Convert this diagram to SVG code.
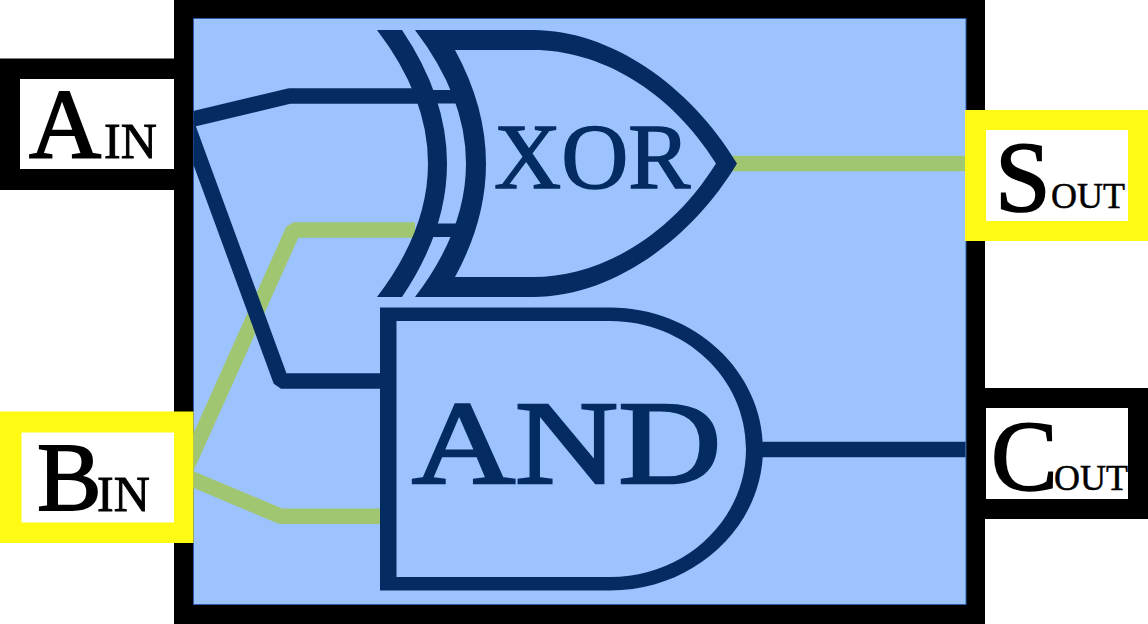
<svg xmlns="http://www.w3.org/2000/svg" width="1148" height="624" viewBox="0 0 1148 624">
<style>
text{font-family:"Liberation Serif","Times New Roman",serif}
.big{font-size:100px;fill:#000;stroke:#000;stroke-width:1.800}
.sm{font-size:50px;fill:#000;stroke:#000;stroke-width:.9}
.smo{font-size:36px;fill:#000;stroke:#000;stroke-width:.5}
.g{fill:#042c63;font-size:93px;stroke:#042c63;stroke-width:1.500}
.navy{fill:#042c63}
.wn,.wg{fill:none;stroke-width:15.500;stroke-linejoin:bevel}
.wn{stroke:#042c63}
.wg{stroke:#a0c672}
.k{fill:#000}
.y{fill:#fffa13}
.w{fill:#fff}
</style>
<defs><clipPath id="inner"><rect x="193.500" y="19" width="772" height="585"/></clipPath></defs>
<rect width="1148" height="624" fill="#fff"/>
<g id="adder">
<rect x="174" y="0" width="811" height="624" class="k"/>
<rect x="193.500" y="18.500" width="772.500" height="586" fill="#9dc3fe" stroke="#2a5aa8" stroke-width="1"/>
</g>
<g id="connectors" clip-path="url(#inner)">
<path class="wg" d="M185 471 L293.300 230 H415"/>
<path class="wn" d="M185 121 L289.500 96 H425"/>
<path class="wn" d="M185.300 120 L281 381 H385"/>
<path class="wg" d="M180 474 L281 516.300 H385"/>
<path class="wg" d="M730 163.500 H966"/>
<path class="wn" d="M755 449.500 H966"/>
</g>
<g id="xor-gate">
<path class="navy" d="M377 30 H402 Q492 163.500 402 297 H377 Q479 163.500 377 30 Z"/>
<path class="navy" fill-rule="evenodd" d="M415 30 H533 C610 30 690 85 737 163.500 C690 242 610 297 533 297 H415 Q517 163.500 415 30 Z M455 50 Q517 163.500 455 277 H533 C600 277 670 237 716 163.500 C670 90 600 50 533 50 Z"/>
<rect class="navy" x="430" y="90" width="36" height="13.500"/>
<rect class="navy" x="430" y="223.500" width="36" height="13.500"/>
<text class="g" x="494" y="188">XOR</text>
</g>
<g id="and-gate">
<path class="navy" fill-rule="evenodd" d="M380 307.500 H610 C695 307.500 763 372 763 449 C763 526 695 590.500 610 590.500 H380 Z M396.500 321 V577 H610 C685 577 746 520 746 449 C746 378 685 321 610 321 Z"/>
<text class="g" style="font-size:118px;stroke-width:2.600" transform="translate(412 483) scale(1.21 1)">AND</text>
</g>
<g id="a-in">
<rect x="0" y="58.500" width="175" height="131.500" class="k"/>
<rect x="20" y="79" width="154" height="90" class="w"/>
<text class="big" x="29" y="158">A</text><text class="sm" x="104" y="158">IN</text>
</g>
<g id="b-in">
<rect x="0" y="411.500" width="193.500" height="131.500" class="y"/>
<rect x="21.500" y="432.500" width="152.500" height="90" class="w"/>
<text class="big" x="37" y="510" style="font-size:97px">B</text><text class="sm" x="97" y="511">IN</text>
</g>
<g id="s-out">
<rect x="965" y="110" width="183" height="131" class="y"/>
<rect x="986" y="130" width="142" height="91" class="w"/>
<text class="big" x="995" y="210">S</text><text class="smo" x="1051" y="208">OUT</text>
</g>
<g id="c-out">
<rect x="985" y="388" width="163" height="131" class="k"/>
<rect x="986" y="408" width="142" height="91" class="w"/>
<text class="big" x="991" y="489">C</text><text class="smo" x="1054" y="490">OUT</text>
</g>
</svg>
